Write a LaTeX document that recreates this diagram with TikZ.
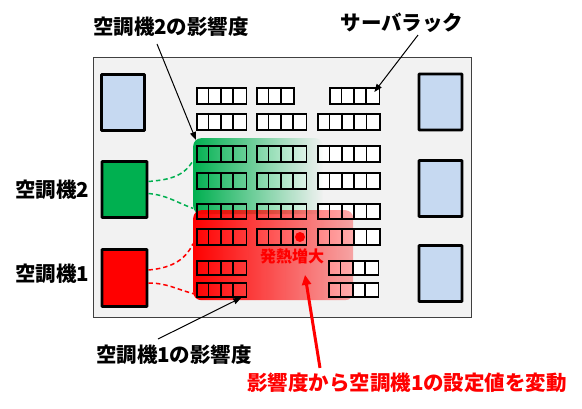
\documentclass[tikz,border=0pt]{standalone}
\usepackage{fontspec}
\setmainfont{Noto Sans CJK JP}
\usepackage{tikz}
\usetikzlibrary{calc,fadings,positioning,arrows.meta}

\definecolor{roomgray}{RGB}{242,242,242}
\definecolor{unitblue}{RGB}{198,217,241}
\definecolor{acgreen}{RGB}{0,176,80}
\definecolor{acred}{RGB}{255,0,0}

\tikzfading[name=fadegreen, left color=transparent!0, right color=transparent!100]
\tikzfading[name=fadered, left color=transparent!0, right color=transparent!68]

\tikzset{
  unit/.style={draw=black, line width=2.8pt, rounded corners=0.6pt, minimum width=43pt, minimum height=56pt, inner sep=0pt},
  rack/.style={draw=black, line width=1.7pt, inner sep=0pt, anchor=north west},
  zone/.style={rounded corners=8pt, inner sep=0pt, anchor=north west},
  lbl/.style={font=\fontsize{20.5}{22}\selectfont\bfseries, inner sep=0pt},
  link/.style={line width=1.5pt, dash pattern=on 4.5pt off 3pt},
  arr/.style={-{Triangle[length=8pt,width=6pt]}, line width=1pt},
}
\newcommand{\cellw}{12.4}
% name/left/top/cells/height
\newcommand{\racklist}{r1a/196/321/4/16, r1b/256/321/3/16, r1c/329/321/4/16,
  r2a/196/295/4/16, r2b/256/295/4/16, r2c/317/295/5/16,
  r3a/196/263/4/16, r3b/256/263/4/16, r3c/317/263/5/16,
  r4a/196/236/4/16, r4b/256/236/4/16, r4c/317/236/5/16,
  r5a/196/205/4/15, r5b/256/205/4/15, r5c/317/205/5/15,
  r6a/196/180/4/16, r6b/256/180/4/16, r6c/317/180/5/16,
  r7a/196/148/4/14, r7c/328/148/4/14,
  r8a/196/126/4/14, r8c/328/126/4/14}

\begin{document}
\begin{tikzpicture}[x=1pt,y=1pt]
  \useasboundingbox (0,0) rectangle (582,408);

  % room
  \node[draw=black!75, fill=roomgray, line width=0.8pt, minimum width=378pt, minimum height=260pt] (room) at (282,221) {};

  % units
  \node[unit, fill=unitblue] (ul) at (123,305.5) {};
  \node[unit, fill=unitblue] (ur1) at (440.5,306) {};
  \node[unit, fill=unitblue] (ur2) at (440.5,219.5) {};
  \node[unit, fill=unitblue] (ur3) at (440.5,134.5) {};
  \node[unit, fill=acgreen, minimum width=45pt] (ac2) at (124.5,218.5) {};
  \node[unit, fill=acred, minimum width=45pt, minimum height=57pt] (ac1) at (124.5,130) {};

  % racks, white ground
  \foreach \nm/\x/\y/\n/\h in \racklist
    \fill[white] (\x,\y) rectangle ++(\n*\cellw,-\h);

  % influence zones
  \node[zone, fill=acgreen, path fading=fadegreen, minimum width=130pt, minimum height=76pt] (zone2) at (193,270) {};
  \node[zone, fill=acred, path fading=fadered, minimum width=160pt, minimum height=90pt] (zone1) at (193,198) {};

  % racks
  \foreach \nm/\x/\y/\n/\h in \racklist {
    \node[rack, minimum width=\n*\cellw*1pt, minimum height=\h*1pt] (\nm) at (\x,\y) {};
    \foreach \k in {2,...,\n}
      \draw[line width=1.7pt] ($(\nm.north west)+(\k*\cellw-\cellw,0)$) -- ++(0,-\h);
  }

  % hot spot
  \node[circle, fill=acred, minimum size=10pt, inner sep=0pt] (hot) at (300,171) {};
  \node[font=\fontsize{16}{18}\selectfont\bfseries, text=acred, inner sep=0pt] (heat) at (292,152) {発熱増大};

  % labels
  \node[lbl] (inf2) at (171,381) {空調機2の影響度};
  \node[lbl] (rackl) at (402,385) {サーバラック};
  \node[lbl, left=11pt of ac2] (ac2l) {空調機2};
  \node[lbl, left=11pt of ac1, yshift=4pt] (ac1l) {空調機1};
  \node[lbl] (inf1) at (174,53) {空調機1の影響度};
  \node[lbl, text=acred] (chg) at (407,25) {影響度から空調機1の設定値を変動};

  % air flow
  \draw[link, acgreen] ([yshift=8pt]ac2.east) to[out=5, in=-120] ([xshift=-3pt,yshift=2pt]r3a.south west);
  \draw[link, acgreen] ([yshift=-4pt]ac2.east) to[out=-5, in=160] ([xshift=-3pt,yshift=3pt]r5a.west);
  \draw[link, acred] ([yshift=8pt]ac1.east) to[out=5, in=-115] ([xshift=-3pt,yshift=2pt]r6a.south west);
  \draw[link, acred] ([yshift=-5pt]ac1.east) to[out=0, in=165] ([xshift=-2pt,yshift=-4pt]r8a.west);

  % pointers
  \draw[arr] ([xshift=-14pt,yshift=-7pt]inf2.south) -- ([xshift=3pt,yshift=-2pt]zone2.north west);
  \draw[arr] ([xshift=16pt,yshift=-2pt]rackl.south) -- ([xshift=-6pt,yshift=-5pt]r1c.north east);
  \draw[arr] ([xshift=-16pt,yshift=6pt]inf1.north) -- ([xshift=-6pt]r8a.south east);
  \draw[arr, acred, line width=3pt, -{Triangle[length=10pt,width=9pt]}] ([xshift=-87pt,yshift=5pt]chg.north) -- ([xshift=13pt,yshift=-11pt]heat.south);
\end{tikzpicture}
\end{document}
